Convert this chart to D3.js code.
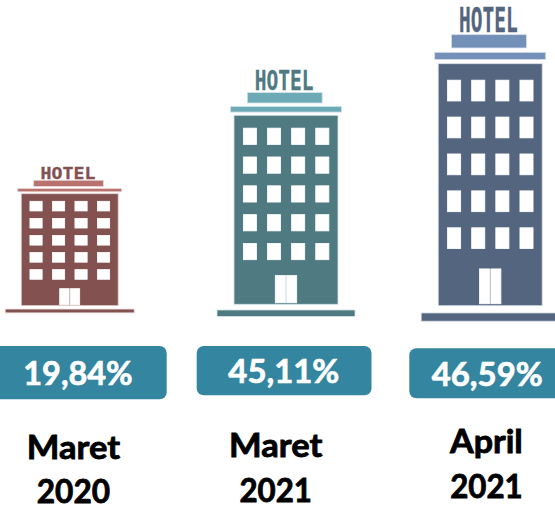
<!DOCTYPE html>
<html><head><meta charset="utf-8">
<script src="https://cdnjs.cloudflare.com/ajax/libs/d3/7.8.5/d3.min.js"></script>
<style>html,body{margin:0;padding:0;background:#fff;overflow:hidden}svg{display:block}</style>
</head><body><svg id="c" width="555" height="506"></svg>
<script>
const months = ["Maret", "Maret", "April"];
const years = ["2020", "2021", "2021"];
const rates = [19.84, 45.11, 46.59];

// layout
const W = 555, H = 506;
const keys = months.map((m, i) => m + " " + years[i]);
const centerX = d3.scaleOrdinal(keys, [69.7, 286, 490.2]);
const heightOf = d3.scaleLinear(rates, [112, 189, 242]);
const widthOf = d3.scaleLinear(rates, [97, 104, 104]);
const bottomOf = d3.scaleOrdinal(keys, [305.7, 304.3, 305.7]);
const bodyCol = d3.scaleOrdinal(keys, ["#845151", "#4f7a82", "#54667f"]);
const signCol = d3.scaleOrdinal(keys, ["#b9726d", "#6eaab6", "#7290b8"]);
const haloCol = d3.scaleOrdinal(keys, ["#ead9d9", "#d5e4e7", "#d6deea"]);
const pillX0 = d3.scaleOrdinal(keys, [-12, 196.7, 409.3]);
const pillX1 = d3.scaleOrdinal(keys, [166.7, 371.5, 570]);
const pillY0 = d3.scaleOrdinal(keys, [346, 346, 348.3]);
const pillY1 = d3.scaleOrdinal(keys, [399.3, 395.3, 398.3]);
const pillTextX = d3.scaleOrdinal(keys, [78, 283.8, 487.2]);
const pillTextY = d3.scaleOrdinal(keys, [385, 383.3, 386]);
const pillTextW = d3.scaleOrdinal(keys, [109.4, 111, 111]);
const labelX = d3.scaleOrdinal(keys, [73.4, 275.7, 486.4]);
const line1Y = d3.scaleOrdinal(keys, [459, 456.7, 453.3]);
const line2Y = d3.scaleOrdinal(keys, [503, 501.7, 498.3]);
const line1W = d3.scaleOrdinal(keys, [93.3, 93.3, 72.7]);
const line2W = d3.scaleOrdinal(keys, [73.3, 72.5, 72.5]);
const baseRight = d3.scaleOrdinal(keys, [16, 17, 17]);

const svg = d3.select("#c");
const font = "Lato,'Open Sans',sans-serif";

keys.forEach((k, i) => {
  const v = rates[i];
  const h = heightOf(v), w = widthOf(v);
  const x0 = centerX(k) - w / 2, bottom = bottomOf(k), top = bottom - h;
  const g = svg.append("g");
  const rect = (x, y, rw, rh, fill, stroke) => g.append("rect")
    .attr("x", x).attr("y", y).attr("width", rw).attr("height", rh)
    .attr("fill", fill).attr("stroke", stroke || haloCol(k)).attr("stroke-width", 0.8);

  // base
  rect(x0 - baseRight(k), bottom + 0.03 * h, w + 2 * baseRight(k), 0.034 * h, bodyCol(k));
  // body
  rect(x0, top, w, h, bodyCol(k));
  // roof
  const roofY = top - 0.047 * h;
  rect(x0 - 3.5, roofY, w + 7, 0.03 * h, signCol(k));
  // sign
  const signY = roofY - 0.073 * h;
  rect(x0 + 0.128 * w, signY, w * 0.72, 0.055 * h, signCol(k));
  // HOTEL
  const capH = 0.1 * h;
  g.append("text").text("HOTEL")
    .attr("x", x0 + 0.2 * w).attr("y", signY - 0.012 * h)
    .attr("textLength", w * 0.565).attr("lengthAdjust", "spacingAndGlyphs")
    .attr("font-family", "'DejaVu Sans Mono',monospace").attr("font-weight", "bold")
    .attr("font-size", capH / 0.729).attr("fill", bodyCol(k))
    .attr("stroke", bodyCol(k)).attr("stroke-width", 0.3);
  // windows
  d3.range(5).forEach(r => d3.range(4).forEach(c => {
    rect(x0 + (0.09 + 0.232 * c) * w, top + (0.068 + 0.1525 * r) * h, 0.126 * w, 0.086 * h, "#fff", "#fff");
  }));
  // door
  [0.397, 0.506].forEach(f => {
    rect(x0 + f * w, top + 0.848 * h, 0.097 * w, 0.144 * h, "#fff", "#fff");
  });

  // value pill
  svg.append("rect").attr("x", pillX0(k)).attr("y", pillY0(k))
    .attr("width", pillX1(k) - pillX0(k)).attr("height", pillY1(k) - pillY0(k))
    .attr("rx", 7).attr("fill", "#34859f");
  svg.append("text").text(d3.format(".2f")(v).replace(".", ",") + "%")
    .attr("x", pillTextX(k)).attr("y", pillTextY(k)).attr("text-anchor", "middle")
    .attr("textLength", pillTextW(k)).attr("lengthAdjust", "spacingAndGlyphs")
    .attr("font-family", font).attr("font-weight", 700).attr("font-size", 33).attr("fill", "#fff")
    .attr("stroke", "#fff").attr("stroke-width", 0.7);

  // labels
  [[months[i], line1Y(k), line1W(k)], [years[i], line2Y(k), line2W(k)]].forEach(([t, y, tw]) => {
    svg.append("text").text(t).attr("x", labelX(k)).attr("y", y).attr("text-anchor", "middle")
      .attr("textLength", tw).attr("lengthAdjust", "spacingAndGlyphs")
      .attr("font-family", font).attr("font-weight", 700).attr("font-size", 32).attr("fill", "#000")
      .attr("stroke", "#000").attr("stroke-width", 0.8);
  });
});
</script></body></html>
